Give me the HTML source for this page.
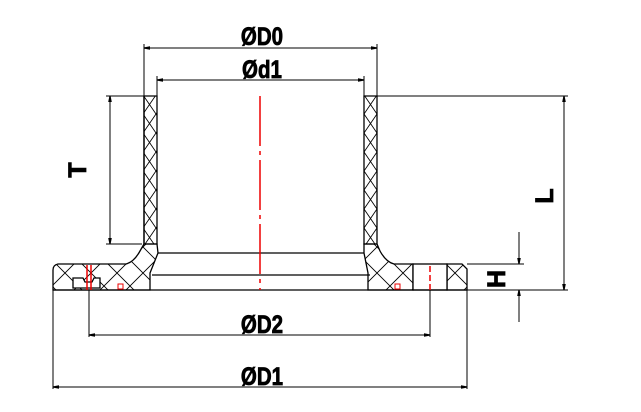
<!DOCTYPE html>
<html><head><meta charset="utf-8"><style>
html,body{margin:0;padding:0;background:#fff;}
svg{display:block;}
text{font-family:"Liberation Sans",sans-serif;font-weight:bold;fill:#000;stroke:#000;stroke-width:0.8;}
</style></head><body>
<svg width="641" height="412" viewBox="0 0 641 412" xmlns="http://www.w3.org/2000/svg">
<defs>
<pattern id="h" width="13" height="19" patternUnits="userSpaceOnUse">
<path d="M0 0L13 19M13 0L0 19" stroke="#000" stroke-width="0.9"/>
</pattern>
<pattern id="h2" width="26" height="26" patternUnits="userSpaceOnUse">
<path d="M0 0L26 26M26 0L0 26" stroke="#000" stroke-width="0.9"/>
</pattern>
<marker id="a" viewBox="0 0 10 10" refX="10" refY="5" markerWidth="12" markerHeight="6" orient="auto-start-reverse" markerUnits="userSpaceOnUse">
<path d="M0 2L10 4L10 6L0 8z" fill="#000"/></marker>
</defs>
<g stroke="#000" stroke-width="1.3">
<path fill="url(#h)" d="M144 96L144 244L157 244L157 96Z" transform="translate(0 0)"/>
<path fill="url(#h)" d="M364 96L364 244L377 244L377 96Z"/>
<path fill="url(#h2)" d="M144 244L140 251Q134 262 126 264L58 264Q53 265 53 270L53 290L150 290L150 273L158 253L157 244Z"/>
<path fill="url(#h2)" d="M377 244L380 251Q386 262 394 264L413 264L413 290L368 290L368 273L364 253L364 244Z"/>
<path fill="url(#h2)" d="M447 264L462 264L467 269L467 290L447 290Z"/>
</g>
<g stroke="#000" stroke-width="1.3" fill="none">
<line x1="144" y1="244" x2="144" y2="96"/>
<rect x="413" y="264" width="34" height="26" fill="#fff"/>
<line x1="158" y1="253" x2="364" y2="253"/>
<line x1="152" y1="275" x2="370" y2="275"/>
<line x1="53" y1="290" x2="467" y2="290"/>
<path d="M73 288L73 278L83 278L85 282L92 282L94 278L100 278L100 288Z" fill="#fff"/>
</g>
<g stroke="#e00" stroke-width="1.5">
<line x1="260" y1="96" x2="260" y2="290" stroke-dasharray="50 5 4 5"/>
<line x1="87" y1="265" x2="87" y2="290"/>
<line x1="91" y1="265" x2="91" y2="290"/>
<line x1="430" y1="266" x2="430" y2="290" stroke-dasharray="6 3"/>
<rect x="118" y="284" width="5" height="5" fill="none" stroke-width="1"/>
<rect x="395" y="284" width="5" height="5" fill="none" stroke-width="1"/>
</g>
<g stroke="#000" stroke-width="1" fill="none">
<line x1="144" y1="44" x2="144" y2="96"/><line x1="377" y1="44" x2="377" y2="96"/>
<line x1="144" y1="48" x2="377" y2="48" marker-start="url(#a)" marker-end="url(#a)"/>
<line x1="157" y1="76" x2="157" y2="96"/><line x1="364" y1="76" x2="364" y2="96"/>
<line x1="157" y1="80" x2="364" y2="80" marker-start="url(#a)" marker-end="url(#a)"/>
<line x1="106" y1="96" x2="144" y2="96"/><line x1="106" y1="244" x2="142" y2="244"/>
<line x1="110" y1="96" x2="110" y2="244" marker-start="url(#a)" marker-end="url(#a)"/>
<line x1="377" y1="96" x2="568" y2="96"/><line x1="467" y1="290" x2="568" y2="290"/>
<line x1="564" y1="96" x2="564" y2="290" marker-start="url(#a)" marker-end="url(#a)"/>
<line x1="467" y1="264" x2="524" y2="264"/>
<line x1="519" y1="232" x2="519" y2="264" marker-end="url(#a)"/>
<line x1="519" y1="322" x2="519" y2="290" marker-end="url(#a)"/>
<line x1="89" y1="290" x2="89" y2="337"/><line x1="430" y1="290" x2="430" y2="337"/>
<line x1="89" y1="335" x2="430" y2="335" marker-start="url(#a)" marker-end="url(#a)"/>
<line x1="53" y1="290" x2="53" y2="389"/><line x1="467" y1="290" x2="467" y2="389"/>
<line x1="53" y1="387" x2="467" y2="387" marker-start="url(#a)" marker-end="url(#a)"/>
</g>
<g font-size="25">
<text x="262" y="45" text-anchor="middle" transform="translate(262 0) scale(0.82 1) translate(-262 0)">ØD0</text>
<text x="262" y="78" text-anchor="middle" transform="translate(262 0) scale(0.82 1) translate(-262 0)">Ød1</text>
<text x="262" y="333" text-anchor="middle" transform="translate(262 0) scale(0.82 1) translate(-262 0)">ØD2</text>
<text x="262" y="385" text-anchor="middle" transform="translate(262 0) scale(0.82 1) translate(-262 0)">ØD1</text>
<text x="0" y="0" text-anchor="middle" transform="translate(86 170) rotate(-90)">T</text>
<text x="0" y="0" text-anchor="middle" transform="translate(553 196) rotate(-90)">L</text>
<text x="0" y="0" text-anchor="middle" transform="translate(505 279) rotate(-90)">H</text>
</g>
</svg>
</body></html>
